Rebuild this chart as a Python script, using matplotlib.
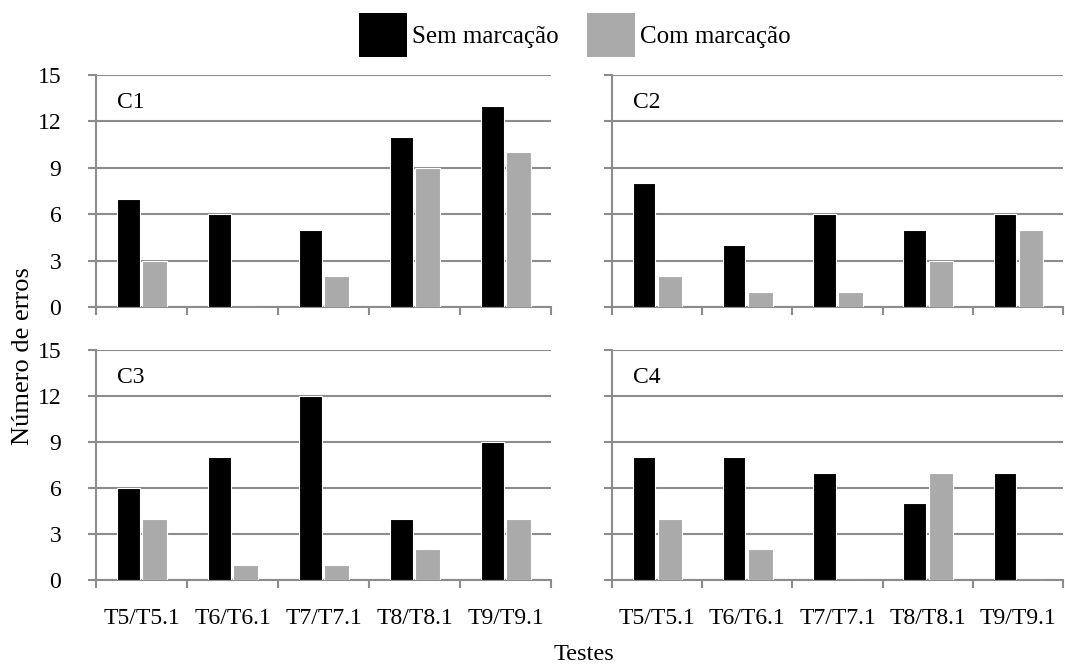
import matplotlib.pyplot as plt
import numpy as np
from matplotlib.patches import Patch

plt.rcParams['font.family'] = ['Liberation Serif', 'DejaVu Serif']

tests = ["T5/T5.1", "T6/T6.1", "T7/T7.1", "T8/T8.1", "T9/T9.1"]
panels = ["C1", "C2", "C3", "C4"]
sem_c1 = [7, 6, 5, 11, 13]
com_c1 = [3, 0, 2, 9, 10]
sem_c2 = [8, 4, 6, 5, 6]
com_c2 = [2, 1, 1, 3, 5]
sem_c3 = [6, 8, 12, 4, 9]
com_c3 = [4, 1, 1, 2, 4]
sem_c4 = [8, 8, 7, 5, 7]
com_c4 = [4, 2, 0, 7, 0]
sem = [sem_c1, sem_c2, sem_c3, sem_c4]
com = [com_c1, com_c2, com_c3, com_c4]

black = "black"
grey = "#aaaaaa"
line_grey = "#8c8c8c"

fig = plt.figure(figsize=(10.65, 6.66), dpi=100)
W, H = 1065, 666
boxes = [(96, 75, 551, 307), (612, 75, 1063, 307),
         (96, 350, 551, 580), (612, 350, 1063, 580)]

x = np.arange(len(tests))
for k, (x0, y0, x1, y1) in enumerate(boxes):
    ax = fig.add_axes([x0 / W, 1 - y1 / H, (x1 - x0) / W, (y1 - y0) / H])
    ax.bar(x - 0.145, sem[k], width=0.25, color=black, edgecolor="white", lw=0.8, zorder=3)
    ax.bar(x + 0.145, com[k], width=0.27, color=grey, edgecolor="white", lw=0.8, zorder=3)
    ax.set_xlim(-0.5, 4.5)
    ax.set_ylim(0, 15)
    ax.set_yticks([0, 3, 6, 9, 12, 15])
    ax.yaxis.grid(True, color=line_grey, lw=1.5, zorder=0)
    ax.set_axisbelow(True)
    for s in ["top", "right"]:
        ax.spines[s].set_visible(False)
    for s in ["left", "bottom"]:
        ax.spines[s].set_color(line_grey)
        ax.spines[s].set_linewidth(1.5)
    ax.set_xticks(np.arange(-0.5, 5.0, 1.0))
    ax.set_xticklabels([])
    ax.set_xticks(x, minor=True)
    ax.tick_params(axis="x", which="major", direction="out", length=6, width=1.5, color=line_grey)
    ax.tick_params(axis="x", which="minor", length=0, labelsize=17, pad=20)
    ax.tick_params(axis="y", direction="out", length=6, width=1.5, color=line_grey, labelsize=17, pad=19)
    if k >= 2:
        ax.set_xticklabels(tests, minor=True)
    if k % 2 == 1:
        ax.set_yticklabels([])
    ax.text(0.046, 0.88, panels[k], transform=ax.transAxes, fontsize=17, va="center")

fig.text(23 / W, 1 - 356 / H, "Número de erros", rotation=90, ha="center", va="center", fontsize=19)
fig.text(584 / W, 1 - 654 / H, "Testes", ha="center", va="center", fontsize=17.5)

handles = [Patch(facecolor=black, edgecolor="none", label="Sem marcação"),
           Patch(facecolor=grey, edgecolor="none", label="Com marcação")]
fig.legend(handles=handles, ncol=2, frameon=False, loc="center",
           bbox_to_anchor=(575 / W, 1 - 35 / H), fontsize=18,
           handlelength=1.92, handleheight=2.3, handletextpad=0.2, columnspacing=1.15)

fig.savefig("out.png", dpi=100)
